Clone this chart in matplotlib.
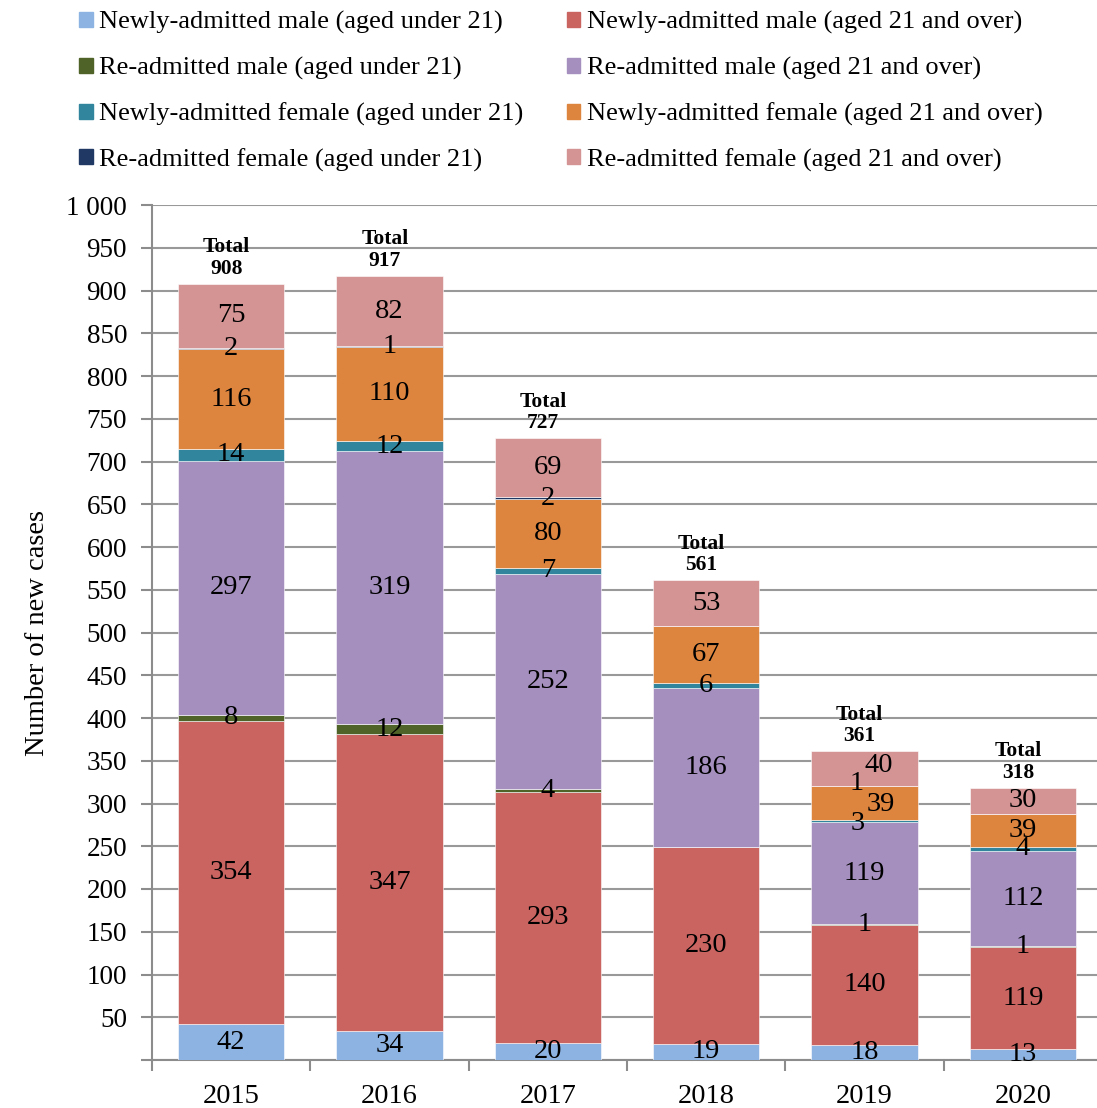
import matplotlib.pyplot as plt
import matplotlib.patches as mpatches
import numpy as np

plt.rcParams['font.family'] = ['Liberation Serif', 'DejaVu Serif']

#data
years = ['2015', '2016', '2017', '2018', '2019', '2020']
seriesNames = ['Newly-admitted male (aged under 21)',
               'Newly-admitted male (aged 21 and over)',
               'Re-admitted male (aged under 21)',
               'Re-admitted male (aged 21 and over)',
               'Newly-admitted female (aged under 21)',
               'Newly-admitted female (aged 21 and over)',
               'Re-admitted female (aged under 21)',
               'Re-admitted female (aged 21 and over)']
newMaleU21 = [42, 34, 20, 19, 18, 13]
newMale21 = [354, 347, 293, 230, 140, 119]
reMaleU21 = [8, 12, 4, 0, 1, 1]
reMale21 = [297, 319, 252, 186, 119, 112]
newFemaleU21 = [14, 12, 7, 6, 3, 4]
newFemale21 = [116, 110, 80, 67, 39, 39]
reFemaleU21 = [2, 1, 2, 0, 1, 0]
reFemale21 = [75, 82, 69, 53, 40, 30]
totals = [908, 917, 727, 561, 361, 318]

series = [newMaleU21, newMale21, reMaleU21, reMale21,
          newFemaleU21, newFemale21, reFemaleU21, reFemale21]
colors = ['#8DB3E2', '#C96461', '#4F6228', '#A48FBE',
          '#31859C', '#DD843E', '#1F3864', '#D49494']

#label nudges (category units, data units) for crowded segments
labelShift = {(4, 6): (-0.05, 3), (4, 5): (0.10, -2), (4, 7): (0.09, 3),
              (4, 4): (-0.04, -3)}

fs = 20.5
fig = plt.figure(figsize=(10.97, 11.08), dpi=100)
ax = fig.add_axes([152/1097, 48/1108, 950/1097, 855/1108])

x = np.arange(len(years))
bottom = np.zeros(len(years))
for s, (vals, col) in enumerate(zip(series, colors)):
    vals = np.array(vals, dtype=float)
    ax.bar(x, vals, 0.67, bottom=bottom, color=col, edgecolor='white',
           linewidth=0.4, zorder=3, label=seriesNames[s])
    for i in range(len(years)):
        if vals[i] <= 0:
            continue
        dx, dy = labelShift.get((i, s), (0, 0))
        ax.text(x[i] + dx, bottom[i] + vals[i]/2 + dy, '%d' % vals[i],
                ha='center', va='center', fontsize=fs, zorder=5)
    bottom = bottom + vals

for i in range(len(years)):
    ax.text(x[i] - 0.03, totals[i] + 6, 'Total\n%d' % totals[i], ha='center',
            va='bottom', fontsize=15.5, fontweight='bold', linespacing=1.1, zorder=5)

ax.set_xlim(-0.5, 5.5)
ax.set_ylim(0, 1000)
yt = np.arange(0, 1001, 50)
ax.set_yticks(yt)
ax.set_yticklabels(['' if v == 0 else '{:,}'.format(v).replace(',', ' ') for v in yt],
                   fontsize=19.5)
ax.set_xticks(np.arange(-0.5, 5.6, 1.0))
ax.set_xticklabels([])
ax.set_xticks(x, minor=True)
ax.set_xticklabels(years, minor=True, fontsize=fs)
ax.tick_params(axis='x', which='minor', length=0, pad=17)
ax.tick_params(axis='x', which='major', length=8, width=1.5, color='#8c8c8c')
ax.tick_params(axis='y', length=8, width=1.5, color='#8c8c8c', pad=10)
ax.grid(axis='y', color='#999999', linewidth=1.5, zorder=0)
for side in ['top', 'right']:
    ax.spines[side].set_visible(False)
for side in ['left', 'bottom']:
    ax.spines[side].set_color('#8c8c8c')
    ax.spines[side].set_linewidth(1.5)
ax.set_ylabel('Number of new cases', fontsize=20.5, labelpad=12)

handles = [mpatches.Patch(color=c) for c in colors]
order = [0, 2, 4, 6, 1, 3, 5, 7]
fig.legend([handles[k] for k in order], [seriesNames[k] for k in order],
           ncol=2, loc='upper left', bbox_to_anchor=(0.058, 1.004), frameon=False,
           fontsize=19, handlelength=0.5, handleheight=0.5, handletextpad=0.25,
           labelspacing=0.85, columnspacing=1.65, borderaxespad=0.2)

fig.savefig('out.png', dpi=100)
